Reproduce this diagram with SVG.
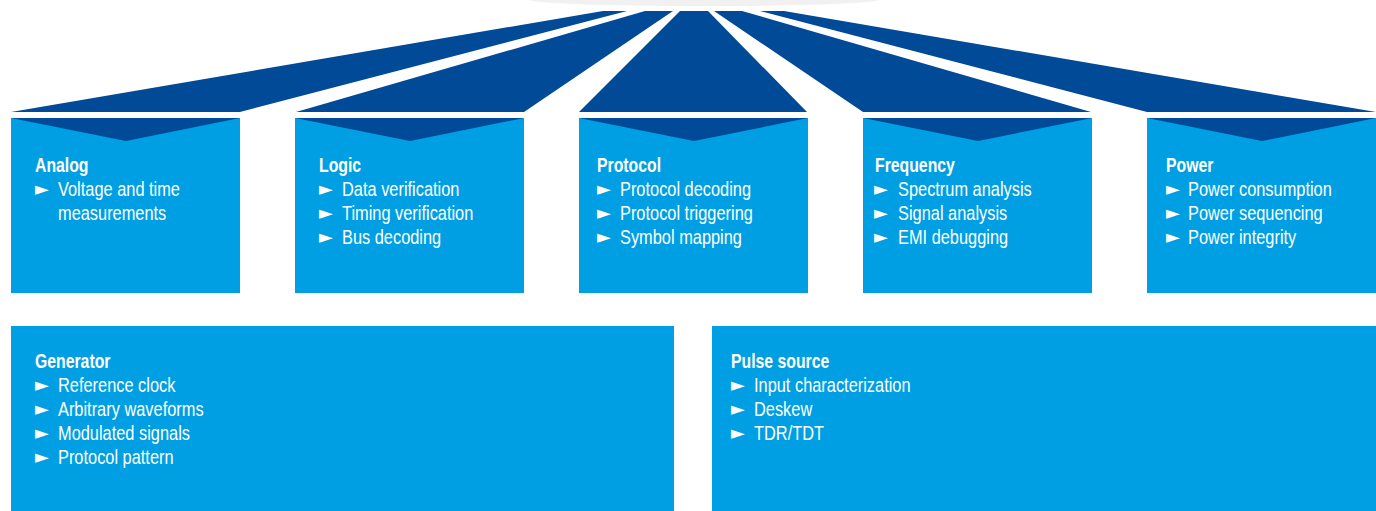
<svg xmlns="http://www.w3.org/2000/svg" width="1376" height="511" viewBox="0 0 1376 511">
<style>
.box{fill:#009FE3}
.dark{fill:#004A98}
.t{font-family:"Liberation Sans",Arial,sans-serif;font-size:19.5px;fill:#ffffff}
.h{font-weight:bold}
.b{font-family:"DejaVu Sans",sans-serif;font-size:18px;fill:#ffffff}
</style>
<rect x="0" y="0" width="1376" height="511" fill="#ffffff"/>
<ellipse cx="704" cy="0" rx="174" ry="6" fill="#f1f1f1"/>
<g id="connectors" class="dark">
<polygon points="11,112 240,112 627,11 603,11"/>
<polygon points="296,112 524,112 673,11 645,11"/>
<polygon points="579,112 807,112 708,11 680,11"/>
<polygon points="1091,112 863,112 714,11 742,11"/>
<polygon points="1376,112 1147,112 760,11 784,11"/>
</g>
<g id="analog">
<rect class="box" x="11" y="118" width="229" height="175"/>
<polygon class="dark" points="11,118 240,118 126,141"/>
<text class="t h" transform="matrix(0.81,0,0,1,35,172)">Analog</text>
<text class="b" x="35" y="195">►</text><text class="t" transform="matrix(0.84,0,0,1,58,196)">Voltage and time</text>
<text class="t" transform="matrix(0.84,0,0,1,58,220)">measurements</text>
</g>
<g id="logic">
<rect class="box" x="295" y="118" width="229" height="175"/>
<polygon class="dark" points="295,118 524,118 410,141"/>
<text class="t h" transform="matrix(0.81,0,0,1,319,172)">Logic</text>
<text class="b" x="319" y="195">►</text><text class="t" transform="matrix(0.84,0,0,1,342,196)">Data verification</text>
<text class="b" x="319" y="219">►</text><text class="t" transform="matrix(0.84,0,0,1,342,220)">Timing verification</text>
<text class="b" x="319" y="243">►</text><text class="t" transform="matrix(0.84,0,0,1,342,244)">Bus decoding</text>
</g>
<g id="protocol">
<rect class="box" x="579" y="118" width="229" height="175"/>
<polygon class="dark" points="579,118 808,118 694,141"/>
<text class="t h" transform="matrix(0.81,0,0,1,597,172)">Protocol</text>
<text class="b" x="597" y="195">►</text><text class="t" transform="matrix(0.84,0,0,1,620,196)">Protocol decoding</text>
<text class="b" x="597" y="219">►</text><text class="t" transform="matrix(0.84,0,0,1,620,220)">Protocol triggering</text>
<text class="b" x="597" y="243">►</text><text class="t" transform="matrix(0.84,0,0,1,620,244)">Symbol mapping</text>
</g>
<g id="frequency">
<rect class="box" x="863" y="118" width="229" height="175"/>
<polygon class="dark" points="863,118 1092,118 978,141"/>
<text class="t h" transform="matrix(0.81,0,0,1,875,172)">Frequency</text>
<text class="b" x="874" y="195">►</text><text class="t" transform="matrix(0.84,0,0,1,898,196)">Spectrum analysis</text>
<text class="b" x="874" y="219">►</text><text class="t" transform="matrix(0.84,0,0,1,898,220)">Signal analysis</text>
<text class="b" x="874" y="243">►</text><text class="t" transform="matrix(0.84,0,0,1,898,244)">EMI debugging</text>
</g>
<g id="power">
<rect class="box" x="1147" y="118" width="229" height="175"/>
<polygon class="dark" points="1147,118 1376,118 1262,141"/>
<text class="t h" transform="matrix(0.81,0,0,1,1166,172)">Power</text>
<text class="b" x="1166" y="195">►</text><text class="t" transform="matrix(0.84,0,0,1,1188,196)">Power consumption</text>
<text class="b" x="1166" y="219">►</text><text class="t" transform="matrix(0.84,0,0,1,1188,220)">Power sequencing</text>
<text class="b" x="1166" y="243">►</text><text class="t" transform="matrix(0.84,0,0,1,1188,244)">Power integrity</text>
</g>
<g id="generator">
<rect class="box" x="11" y="326" width="663" height="185"/>
<text class="t h" transform="matrix(0.81,0,0,1,35,368)">Generator</text>
<text class="b" x="35" y="391">►</text><text class="t" transform="matrix(0.84,0,0,1,58,392)">Reference clock</text>
<text class="b" x="35" y="415">►</text><text class="t" transform="matrix(0.84,0,0,1,58,416)">Arbitrary waveforms</text>
<text class="b" x="35" y="439">►</text><text class="t" transform="matrix(0.84,0,0,1,58,440)">Modulated signals</text>
<text class="b" x="35" y="463">►</text><text class="t" transform="matrix(0.84,0,0,1,58,464)">Protocol pattern</text>
</g>
<g id="pulse-source">
<rect class="box" x="712" y="326" width="664" height="185"/>
<text class="t h" transform="matrix(0.81,0,0,1,731,368)">Pulse source</text>
<text class="b" x="731" y="391">►</text><text class="t" transform="matrix(0.84,0,0,1,754,392)">Input characterization</text>
<text class="b" x="731" y="415">►</text><text class="t" transform="matrix(0.84,0,0,1,754,416)">Deskew</text>
<text class="b" x="731" y="439">►</text><text class="t" transform="matrix(0.84,0,0,1,754,440)">TDR/TDT</text>
</g>
</svg>
